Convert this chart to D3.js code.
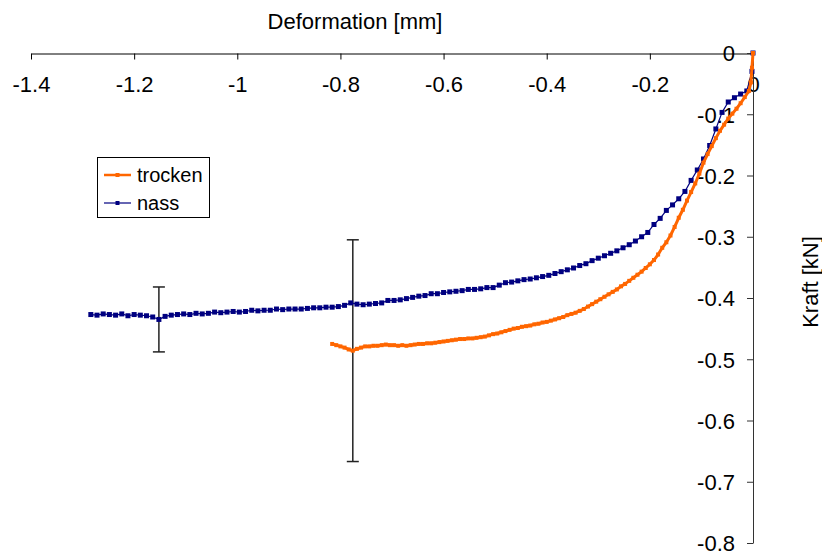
<!DOCTYPE html>
<html>
<head>
<meta charset="utf-8">
<script src="https://cdn.jsdelivr.net/npm/d3@7"></script>
<style>
  body { margin: 0; background: #fff; }
  svg { display: block; font-family: "Liberation Sans", Arial, sans-serif; }
</style>
</head>
<body>
<svg id="chart" width="822" height="555"></svg>
<script>
// Force-deformation curves, dry (trocken) and wet (nass)
const xTicks = [-1.4, -1.2, -1, -0.8, -0.6, -0.4, -0.2, 0];
const yTicks = [0, -0.1, -0.2, -0.3, -0.4, -0.5, -0.6, -0.7, -0.8];
const seriesNames = ["trocken", "nass"];
const seriesColors = ["#FF6600", "#000080"];

const trockenX = [0, -0.002, -0.004, -0.008, -0.016, -0.024, -0.032, -0.040, -0.048, -0.056, -0.064,
  -0.072, -0.080, -0.088, -0.096, -0.104, -0.112, -0.120, -0.128, -0.136, -0.144,
  -0.152, -0.160, -0.168, -0.176, -0.184, -0.192, -0.200, -0.208, -0.216, -0.224,
  -0.232, -0.240, -0.248, -0.256, -0.264, -0.272, -0.280, -0.288, -0.296, -0.304,
  -0.312, -0.320, -0.328, -0.336, -0.344, -0.352, -0.360, -0.368, -0.376, -0.384,
  -0.392, -0.400, -0.408, -0.416, -0.424, -0.432, -0.440, -0.448, -0.456, -0.464,
  -0.472, -0.480, -0.488, -0.496, -0.504, -0.512, -0.520, -0.528, -0.536, -0.544,
  -0.552, -0.560, -0.568, -0.576, -0.584, -0.592, -0.600, -0.608, -0.616, -0.624,
  -0.632, -0.640, -0.648, -0.656, -0.664, -0.672, -0.680, -0.688, -0.696, -0.704,
  -0.712, -0.720, -0.728, -0.736, -0.744, -0.752, -0.760, -0.768, -0.776, -0.784,
  -0.792, -0.800, -0.808, -0.816];
const trockenY = [0, -0.024, -0.048, -0.062, -0.072, -0.082, -0.091, -0.099, -0.107, -0.117, -0.127,
  -0.139, -0.152, -0.165, -0.179, -0.197, -0.213, -0.227, -0.241, -0.256, -0.269,
  -0.284, -0.298, -0.309, -0.318, -0.329, -0.338, -0.345, -0.351, -0.357, -0.362,
  -0.367, -0.372, -0.377, -0.381, -0.386, -0.390, -0.394, -0.398, -0.402, -0.406,
  -0.410, -0.414, -0.418, -0.421, -0.424, -0.426, -0.428, -0.431, -0.433, -0.435,
  -0.437, -0.439, -0.440, -0.442, -0.443, -0.445, -0.446, -0.447, -0.449, -0.450,
  -0.452, -0.454, -0.456, -0.458, -0.459, -0.461, -0.463, -0.464, -0.465, -0.466,
  -0.466, -0.467, -0.467, -0.468, -0.469, -0.470, -0.471, -0.472, -0.473, -0.474,
  -0.474, -0.475, -0.475, -0.476, -0.477, -0.478, -0.477, -0.478, -0.477, -0.477,
  -0.476, -0.477, -0.478, -0.478, -0.479, -0.479, -0.481, -0.483, -0.486, -0.484,
  -0.481, -0.479, -0.477, -0.475];

const nassX = [0, -0.002, -0.012, -0.024, -0.036, -0.048, -0.060, -0.072, -0.084, -0.096, -0.108,
  -0.120, -0.132, -0.144, -0.156, -0.168, -0.180, -0.192, -0.204, -0.216, -0.228,
  -0.240, -0.252, -0.264, -0.276, -0.288, -0.300, -0.312, -0.324, -0.336, -0.348,
  -0.360, -0.372, -0.384, -0.396, -0.408, -0.420, -0.432, -0.444, -0.456, -0.468,
  -0.480, -0.492, -0.504, -0.516, -0.528, -0.540, -0.552, -0.564, -0.576, -0.588,
  -0.600, -0.612, -0.624, -0.636, -0.648, -0.660, -0.672, -0.684, -0.696, -0.708,
  -0.720, -0.732, -0.744, -0.756, -0.768, -0.780, -0.792, -0.804, -0.816, -0.828,
  -0.840, -0.852, -0.864, -0.876, -0.888, -0.900, -0.912, -0.924, -0.936, -0.948,
  -0.960, -0.972, -0.984, -0.996, -1.008, -1.020, -1.032, -1.044, -1.056, -1.068,
  -1.080, -1.092, -1.104, -1.116, -1.128, -1.140, -1.152, -1.164, -1.176, -1.188,
  -1.200, -1.212, -1.224, -1.236, -1.248, -1.260, -1.272, -1.284];
const nassY = [0, -0.030, -0.062, -0.067, -0.073, -0.080, -0.097, -0.124, -0.151, -0.173, -0.191,
  -0.208, -0.226, -0.238, -0.248, -0.257, -0.270, -0.280, -0.293, -0.300, -0.307,
  -0.313, -0.318, -0.323, -0.327, -0.331, -0.335, -0.339, -0.344, -0.347, -0.351,
  -0.354, -0.357, -0.360, -0.363, -0.365, -0.367, -0.369, -0.370, -0.372, -0.374,
  -0.375, -0.379, -0.383, -0.383, -0.385, -0.386, -0.386, -0.388, -0.389, -0.390,
  -0.391, -0.393, -0.393, -0.396, -0.397, -0.399, -0.401, -0.403, -0.404, -0.404,
  -0.408, -0.409, -0.410, -0.411, -0.410, -0.408, -0.412, -0.414, -0.415, -0.415,
  -0.416, -0.416, -0.417, -0.418, -0.418, -0.418, -0.419, -0.418, -0.420, -0.420,
  -0.421, -0.420, -0.422, -0.423, -0.422, -0.423, -0.424, -0.423, -0.425, -0.426,
  -0.425, -0.427, -0.426, -0.427, -0.428, -0.430, -0.435, -0.431, -0.429, -0.428,
  -0.427, -0.429, -0.426, -0.428, -0.427, -0.426, -0.428, -0.427];

// Error bars: [deformation, force, +/- half-width]
const errorBars = [
  [-0.776, -0.486, 0.181],
  [-1.152, -0.435, 0.053]
];

const svg = d3.select("#chart");
const W = 822, H = 555;
svg.append("rect").attr("width", W).attr("height", H).attr("fill", "#fff");

const x = d3.scaleLinear().domain([-1.4, 0]).range([31, 753]);
const y = d3.scaleLinear().domain([0, -0.8]).range([53, 543]);

// Horizontal axis along the top (y = 0)
const gx = svg.append("g")
  .attr("transform", `translate(0,${y(0) + 0.5})`)
  .call(d3.axisBottom(x).tickValues(xTicks).tickSize(6).tickPadding(17)
    .tickFormat(d => String(d)).tickSizeOuter(0));
gx.select(".domain").attr("stroke", "#000");
gx.selectAll(".tick line").attr("stroke", "#000");
gx.selectAll("text").attr("font-size", 22).attr("fill", "#000")
  .attr("font-family", "'Liberation Sans', Arial, sans-serif");

// Vertical axis along the right (x = 0)
const gy = svg.append("g")
  .attr("transform", `translate(${x(0)},0)`)
  .call(d3.axisLeft(y).tickValues(yTicks).tickSize(6).tickPadding(12)
    .tickFormat(d => String(d)).tickSizeOuter(0));
gy.select(".domain").attr("stroke", "#333");
gy.selectAll(".tick line").attr("stroke", "#333");
gy.selectAll("text").attr("font-size", 22).attr("fill", "#000").attr("dy", "0.36em")
  .attr("font-family", "'Liberation Sans', Arial, sans-serif");

// Axis titles
svg.append("text").attr("x", 355).attr("y", 29).attr("text-anchor", "middle")
  .attr("font-size", 22).text("Deformation [mm]");
svg.append("text").attr("transform", "translate(810,282) rotate(-90)")
  .attr("text-anchor", "middle").attr("dominant-baseline", "central")
  .attr("font-size", 22).text("Kraft [kN]");

// Error bars
const eb = svg.append("g").attr("stroke", "#222").attr("stroke-width", 1.5);
errorBars.forEach(([bx, by, e]) => {
  const px = x(bx);
  eb.append("line").attr("x1", px).attr("x2", px).attr("y1", y(by + e)).attr("y2", y(by - e));
  eb.append("line").attr("x1", px - 6).attr("x2", px + 6).attr("y1", y(by + e)).attr("y2", y(by + e));
  eb.append("line").attr("x1", px - 6).attr("x2", px + 6).attr("y1", y(by - e)).attr("y2", y(by - e));
});

const line = d3.line().x(d => x(d[0])).y(d => y(d[1]));

function drawSeries(xs, ys, color, lw, ms) {
  const pts = xs.map((v, i) => [v, ys[i]]);
  const g = svg.append("g");
  g.append("path").datum(pts).attr("d", line).attr("fill", "none")
    .attr("stroke", color).attr("stroke-width", lw).attr("stroke-linejoin", "round");
  g.selectAll("rect").data(pts).join("rect")
    .attr("x", d => x(d[0]) - ms / 2).attr("y", d => y(d[1]) - ms / 2)
    .attr("width", ms).attr("height", ms).attr("fill", color);
}

// wet curve underneath, dry curve on top
drawSeries(nassX, nassY, seriesColors[1], 1.2, 5);
drawSeries(trockenX, trockenY, seriesColors[0], 3, 4);

// Legend
const lg = svg.append("g");
lg.append("rect").attr("x", 97.5).attr("y", 157.5).attr("width", 112).attr("height", 60)
  .attr("fill", "#fff").attr("stroke", "#000");
const legendRows = [175, 203];
seriesNames.forEach((name, i) => {
  const ly = legendRows[i];
  lg.append("line").attr("x1", 104).attr("x2", 131).attr("y1", ly).attr("y2", ly)
    .attr("stroke", seriesColors[i]).attr("stroke-width", i === 0 ? 2.5 : 1.2);
  const ms = 4;
  lg.append("rect").attr("x", 117.5 - ms / 2).attr("y", ly - ms / 2)
    .attr("width", ms).attr("height", ms).attr("fill", seriesColors[i]);
  lg.append("text").attr("x", 137).attr("y", ly + 7).attr("font-size", 20).text(name);
});
</script>
</body>
</html>
